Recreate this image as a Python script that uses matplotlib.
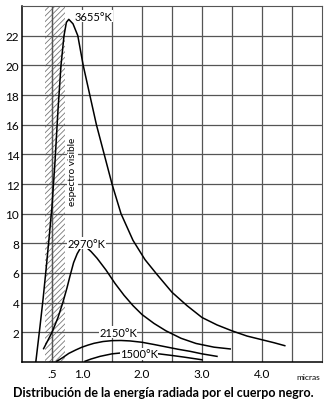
import matplotlib
matplotlib.use("Agg")
import matplotlib.pyplot as plt

# wavelength (micras) / energy
x_3655 = [0.23, 0.3, 0.35, 0.4, 0.45, 0.5, 0.55, 0.6, 0.65, 0.7, 0.74, 0.78, 0.85, 0.93, 1.02, 1.13, 1.24,
          1.37, 1.5, 1.65, 1.85, 2.05, 2.25, 2.5, 2.75, 3.0, 3.25, 3.5, 3.75, 4.0, 4.2, 4.38]
y_3655 = [0.0, 2.4, 4.2, 6.2, 8.3, 10.5, 13.5, 17.0, 20.0, 22.0, 22.9, 23.1, 22.8, 22.0, 20.0, 18.0, 16.0,
          14.0, 12.0, 10.0, 8.2, 6.9, 5.9, 4.7, 3.8, 3.0, 2.5, 2.1, 1.75, 1.5, 1.3, 1.1]

x_2970 = [0.36, 0.5, 0.6, 0.68, 0.75, 0.8, 0.86, 0.92, 0.97, 1.02, 1.08, 1.15, 1.25, 1.4, 1.55, 1.7,
          1.85, 2.0, 2.2, 2.4, 2.65, 2.9, 3.2, 3.47]
y_2970 = [0.9, 2.0, 3.0, 4.0, 5.0, 5.8, 6.7, 7.3, 7.65, 7.75, 7.7, 7.45, 7.0, 6.2, 5.3, 4.5,
          3.8, 3.2, 2.6, 2.1, 1.6, 1.25, 1.0, 0.88]

x_2150 = [0.58, 0.68, 0.78, 0.9, 1.0, 1.1, 1.2, 1.35, 1.5, 1.65, 1.8, 2.0, 2.2, 2.4, 2.6, 2.8, 3.0, 3.25]
y_2150 = [0.05, 0.3, 0.58, 0.82, 1.0, 1.14, 1.26, 1.38, 1.44, 1.45, 1.42, 1.33, 1.18, 1.02, 0.86, 0.72, 0.55, 0.38]

x_1500 = [1.05, 1.15, 1.3, 1.5, 1.7, 1.9, 2.1, 2.3, 2.5, 2.7, 2.85, 3.0]
y_1500 = [0.05, 0.2, 0.38, 0.55, 0.63, 0.65, 0.62, 0.54, 0.44, 0.33, 0.24, 0.15]

curves = [(x_3655, y_3655), (x_2970, y_2970), (x_2150, y_2150), (x_1500, y_1500)]
labels = ["3655°K", "2970°K", "2150°K", "1500°K"]
label_pos = [(1.19, 23.3), (1.08, 8.0), (1.6, 2.0), (1.95, 0.55)]

xticks = [0.5, 1.0, 2.0, 3.0, 4.0]
xticklabels = [".5", "1.0", "2.0", "3.0", "4.0"]
yticks = [2, 4, 6, 8, 10, 12, 14, 16, 18, 20, 22]
visible = (0.38, 0.72)

fig = plt.figure(figsize=(3.3, 4.02), dpi=100)
ax = fig.add_axes([22/330, 39/402, 300/330, 356/402])

ax.set_xlim(0, 5)
ax.set_ylim(0, 24)

# grid every .5 micra and every 2 units
for gx in [i * 0.5 for i in range(1, 10)]:
    ax.axvline(gx, color="#555555", lw=0.9, zorder=1)
for gy in yticks:
    ax.axhline(gy, color="#555555", lw=0.9, zorder=1)

# visible spectrum band
plt.rcParams['hatch.linewidth'] = 0.6
ax.axvspan(visible[0], visible[1], facecolor="white", edgecolor="#777777",
           hatch="//////", lw=0, zorder=0.5)
ax.axvline(0.5, color="#555555", lw=0.9, zorder=1)
ax.text(0.84, 12.9, "espectro visible", rotation=90, ha="center", va="center",
        fontsize=7.2, family="Lato", zorder=3,
        bbox=dict(facecolor="white", edgecolor="none", pad=0.5))

for (xs, ys) in curves:
    ax.plot(xs, ys, color="black", lw=1.1, zorder=2, solid_joinstyle="round")

for lab, (lx, ly) in zip(labels, label_pos):
    ax.text(lx, ly, lab, ha="center", va="center", fontsize=8, family="Lato",
            zorder=4, bbox=dict(facecolor="white", edgecolor="none", pad=0.3))

ax.set_xticks(xticks)
ax.set_xticklabels(xticklabels, fontsize=8.5, family="Lato")
ax.set_yticks(yticks)
ax.set_yticklabels([str(v) for v in yticks], fontsize=8.5, family="Lato")
ax.tick_params(length=0, pad=2)
ax.tick_params(axis="x", pad=4)

for side in ["top", "right"]:
    ax.spines[side].set_color("#555555")
for side in ["left", "bottom"]:
    ax.spines[side].set_color("black")
    ax.spines[side].set_linewidth(1.1)

ax.text(4.77, -0.95, "micras", ha="center", va="center", fontsize=6, family="Lato")

fig.text(0.495, 9/402, "Distribución de la energía radiada por el cuerpo negro.",
         ha="center", va="center", fontsize=9, family="Lato", weight="bold")

fig.savefig("out.png", dpi=100)
